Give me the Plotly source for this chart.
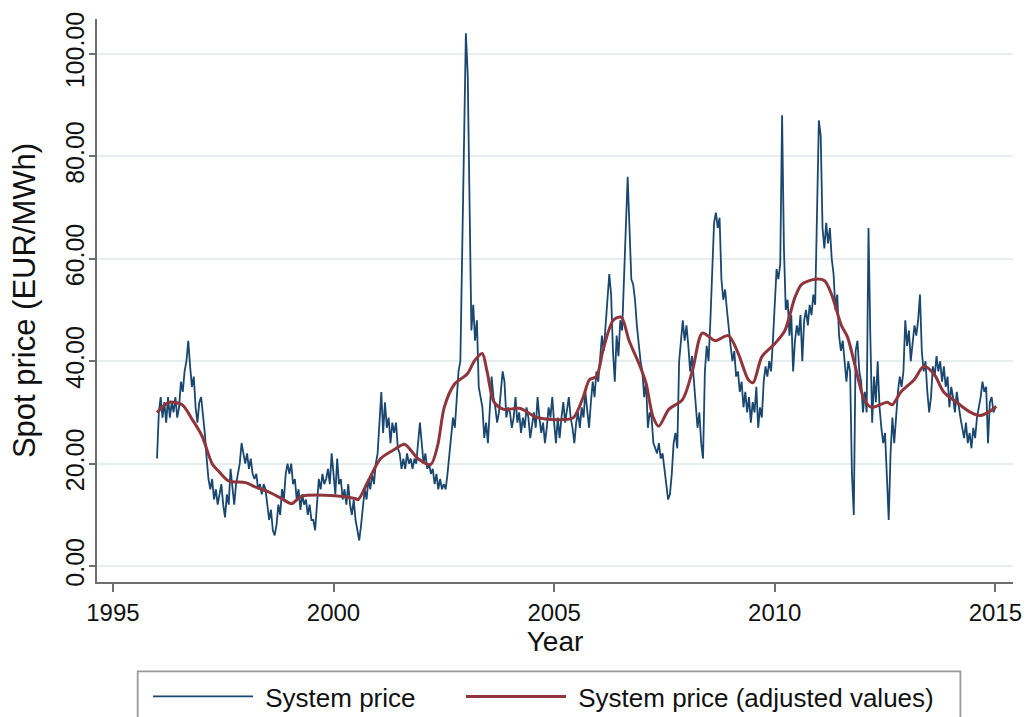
import plotly.graph_objects as go

# Nordic system spot price, semi-monthly observations from January 1996 (EUR/MWh)
system_price = [
    # 1996
    21, 30, 33, 29, 32, 28, 33, 29, 32, 30, 33, 29, 31, 36, 34, 38, 40, 44, 39, 35, 37, 31, 28, 32,
    # 1997
    33, 30, 26, 21, 17, 15, 17, 13, 15, 12, 14, 16, 12, 9.5, 14, 12, 19, 15, 12, 16, 18, 20, 24, 22,
    # 1998
    20, 22, 19, 21, 18, 17, 18, 15, 16, 14, 16, 15, 12, 9, 11, 7, 6, 8, 12, 10, 15, 13, 18, 20,
    # 1999
    18, 20, 16, 17, 13, 15, 11, 14, 12, 13, 10, 12, 9, 9, 7, 12, 17, 15, 18, 16, 17, 19, 16, 22,
    # 2000
    18, 14, 21, 16, 17, 13, 15, 12, 16, 12, 10, 13, 9, 7, 5, 8, 11, 15, 13, 17, 15, 18, 16, 20,
    # 2001
    22, 28, 34, 26, 32, 27, 29, 24, 28, 26, 28, 23, 22, 19, 21, 19, 22, 20, 21, 19, 21, 20, 25, 28,
    # 2002
    24, 20, 22, 19, 20, 18, 19, 16, 18, 15, 17, 15, 16, 15, 18, 22, 25, 29, 27, 33, 38, 40, 60, 88,
    # 2003
    104, 96, 70, 46, 51, 44, 48, 35, 33, 31, 25, 28, 24, 30, 37, 33, 31, 28, 30, 34, 38, 36, 29, 31,
    # 2004
    30, 27, 29, 33, 28, 30, 26, 29, 27, 31, 29, 25, 28, 30, 27, 33, 29, 26, 28, 24, 27, 31, 29, 33,
    # 2005
    28, 24, 29, 25, 29, 32, 28, 31, 33, 29, 27, 24, 28, 30, 27, 31, 29, 34, 31, 27, 32, 36, 33, 38,
    # 2006
    36, 40, 45, 42, 47, 52, 57, 53, 42, 36, 45, 41, 48, 46, 58, 66, 76, 64, 56, 55, 52, 47, 43, 40,
    # 2007
    38, 33, 36, 27, 30, 29, 24, 23, 22, 24, 21, 22, 19, 16, 13, 14, 18, 24, 26, 23, 40, 44, 48, 44,
    # 2008
    47, 43, 38, 41, 36, 32, 27, 30, 24, 21, 38, 43, 40, 48, 58, 67, 69, 66, 68, 56, 52, 54, 50, 46,
    # 2009
    43, 40, 42, 37, 38, 34, 36, 31, 34, 30, 33, 28, 32, 30, 35, 27, 31, 29, 36, 39, 37, 40, 38, 44,
    # 2010
    52, 58, 56, 59, 88, 62, 50, 52, 45, 49, 38, 44, 47, 45, 49, 40, 48, 50, 47, 51, 49, 53, 51, 68,
    # 2011
    87, 84, 66, 62, 67, 63, 66, 60, 57, 50, 53, 45, 42, 44, 39, 36, 40, 38, 18, 10, 42, 44, 38, 36,
    # 2012
    30, 34, 30, 66, 45, 28, 37, 32, 40, 31, 27, 24, 26, 16, 9, 22, 29, 24, 30, 34, 37, 35, 38, 48,
    # 2013
    43, 46, 40, 44, 47, 45, 48, 53, 42, 38, 40, 34, 30, 33, 39, 37, 41, 38, 40, 36, 39, 35, 37, 31,
    # 2014
    35, 33, 30, 34, 31, 29, 27, 25, 28, 24, 26, 23, 27, 25, 29, 31, 33, 36, 34, 35, 24, 32, 33, 30,
    31,
]

# Adjusted (smoothed) system price at selected dates (decimal years)
adjusted_year = [
    1996.00, 1996.28, 1996.57, 1996.80, 1997.02, 1997.25, 1997.41, 1997.63, 1998.01, 1998.24,
    1998.53, 1998.82, 1999.05, 1999.27, 1999.95, 2000.49, 2000.56, 2000.78, 2001.07, 2001.39,
    2001.61, 2001.91, 2002.20, 2002.36, 2002.51, 2002.74, 2003.03, 2003.19, 2003.37, 2003.48,
    2003.64, 2003.86, 2004.22, 2004.61, 2005.21, 2005.44, 2005.66, 2005.80, 2005.96, 2006.11,
    2006.34, 2006.52, 2006.70, 2006.92, 2007.08, 2007.24, 2007.37, 2007.60, 2007.91, 2008.14,
    2008.36, 2008.65, 2008.95, 2009.17, 2009.40, 2009.51, 2009.71, 2010.01, 2010.23, 2010.46,
    2010.61, 2010.91, 2011.13, 2011.29, 2011.51, 2011.65, 2011.81, 2012.03, 2012.19, 2012.55,
    2012.66, 2012.86, 2013.16, 2013.38, 2013.61, 2013.83, 2014.12, 2014.44, 2014.66, 2014.89,
    2015.02,
]
adjusted_price = [
    30.0, 32.0, 31.5, 28.6, 25.4, 20.0, 18.4, 16.6, 16.3, 15.4,
    14.5, 13.2, 12.2, 13.6, 13.8, 13.2, 13.0, 16.5, 21.0, 22.8,
    23.8, 21.0, 19.8, 23.5, 31.0, 35.5, 37.5, 40.0, 41.5, 38.0,
    32.0, 30.6, 30.8, 29.0, 28.6, 29.0, 33.0, 36.4, 37.0, 42.2,
    48.0, 48.6, 44.0, 39.6, 35.8, 29.2, 27.3, 30.6, 32.5, 38.3,
    45.5, 44.0, 45.0, 41.6, 36.4, 35.8, 40.9, 43.5, 46.0, 52.5,
    55.0, 56.0, 55.7, 53.0, 47.0, 44.7, 39.5, 32.5, 31.0, 32.0,
    31.5, 34.0, 36.4, 39.0, 37.5, 34.0, 32.0, 30.0, 29.4, 30.3,
    31.2,
]

x_ticks = [1995, 2000, 2005, 2010, 2015]
y_ticks = [0, 20, 40, 60, 80, 100]
y_tick_text = ["0.00", "20.00", "40.00", "60.00", "80.00", "100.00"]

# semi-monthly observation dates
obs_year = [1996 + k / 24 for k in range(len(system_price))]

FONT = "Liberation Sans, Arial, Helvetica, sans-serif"
BLUE = "#1a476f"
RED = "#90353b"
GRID = "#e6eef0"
AXIS = "#6e6e6e"

W, H = 1034, 717
# plot area in pixels
L, R, T, B = 97, 1020, 15, 582
PW, PH = R - L, B - T


def px(x):
    return (x - L) / PW


def py(y):
    return (B - y) / PH


fig = go.Figure()
fig.add_trace(go.Scatter(
    x=obs_year, y=system_price, mode="lines", name="\u00a0System price",
    line=dict(color=BLUE, width=1.8), legend="legend",
))
fig.add_trace(go.Scatter(
    x=adjusted_year, y=adjusted_price, mode="lines",
    name="\u00a0System price (adjusted values)",
    line=dict(color=RED, width=3, shape="spline", smoothing=0.8), legend="legend2",
))

# legend frame (runs past the lower edge of the figure)
fig.add_shape(type="rect", xref="paper", yref="paper",
              x0=px(138), x1=px(967), y0=py(760), y1=py(672),
              line=dict(color="#9a9a9a", width=1.8), fillcolor="white", layer="below")

legend_common = dict(
    orientation="h", yanchor="top", xanchor="left",
    xref="container", yref="container",
    font=dict(family=FONT, size=26, color="#111111"),
    bgcolor="rgba(0,0,0,0)", borderwidth=0, itemwidth=100,
)

fig.update_layout(
    width=W, height=H,
    margin=dict(l=L, r=W - R, t=T, b=H - B),
    paper_bgcolor="white", plot_bgcolor="white",
    font=dict(family=FONT, size=24, color="#111111"),
    showlegend=True,
    legend=dict(x=148 / W, y=1 - 673 / H, **legend_common),
    legend2=dict(x=461 / W, y=1 - 673 / H, **legend_common),
    xaxis=dict(
        range=[1994.64, 2015.40], tickvals=x_ticks,
        ticktext=[str(v) for v in x_ticks],
        showgrid=False, zeroline=False,
        showline=True, linecolor=AXIS, linewidth=1.8,
        ticks="outside", ticklen=8, tickwidth=1.5, tickcolor=AXIS,
        tickfont=dict(size=24),
        title=dict(text="Year", font=dict(size=28), standoff=2),
    ),
    yaxis=dict(
        range=[-3.1, 106.8], tickvals=y_ticks, ticktext=y_tick_text,
        tickangle=-90,
        showgrid=True, gridcolor=GRID, gridwidth=1.8,
        zeroline=False,
        showline=True, linecolor=AXIS, linewidth=1.8,
        ticks="outside", ticklen=6, tickwidth=1.5, tickcolor=AXIS,
        tickfont=dict(size=25), ticklabelstandoff=-5,
        title=dict(text="Spot price (EUR/MWh)", font=dict(size=31), standoff=16),
    ),
)

fig.write_html("out.html")
